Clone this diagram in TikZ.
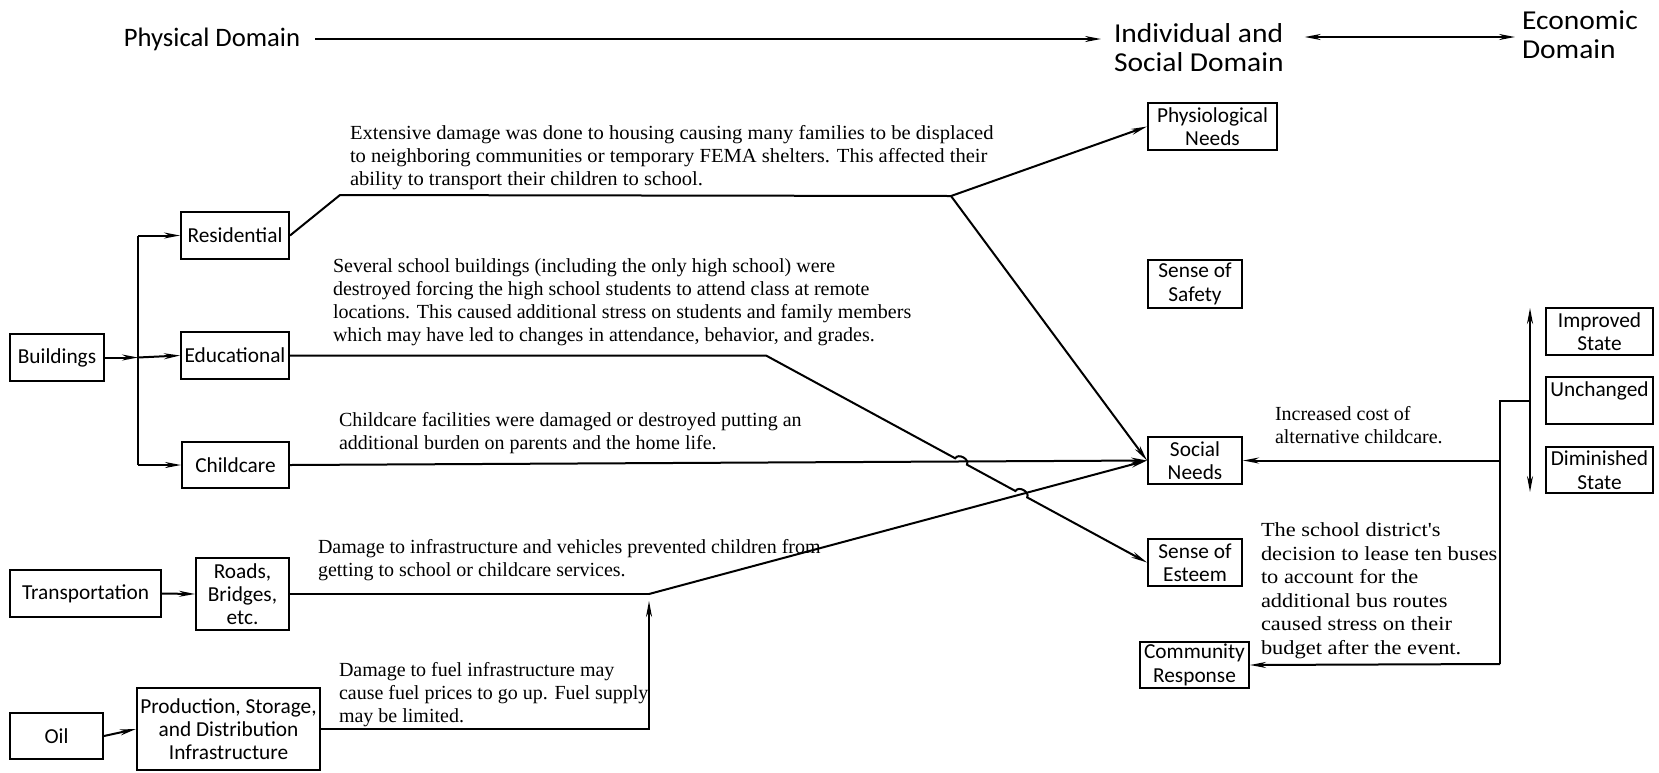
\documentclass[tikz,border=0pt]{standalone}
\usepackage{fontspec}
\setmainfont{Liberation Serif}
\newfontfamily\calfont{Carlito}
\newfontfamily\calwide[FakeStretch=1.08]{Carlito}
\newfontfamily\serwide[FakeStretch=1.12]{Liberation Serif}
\newfontfamily\serwidea[FakeStretch=1.03]{Liberation Serif}
\usetikzlibrary{arrows.meta,calc,intersections}
\begin{document}
\begin{tikzpicture}[x=0.75pt,y=-0.75pt, line width=1.5pt,
  box/.style 2 args={draw, line width=1.5pt, inner sep=0pt, minimum width=#1*0.75pt, minimum height=#2*0.75pt, align=center, font=\calfont\fontsize{16}{17.5}\selectfont},
  arr/.style={-{Stealth[length=12pt,width=4.5pt]}},
  dbl/.style={{Stealth[length=12pt,width=4.5pt]}-{Stealth[length=12pt,width=4.5pt]}},
  desc/.style={anchor=north west, inner sep=0pt, align=left, font=\fontsize{15}{17.25}\selectfont},
  head/.style={inner sep=0pt, align=left, font=\calfont\fontsize{20}{21.75}\selectfont},
  headw/.style={inner sep=0pt, align=left, font=\calwide\fontsize{20.5}{21.75}\selectfont}]
\useasboundingbox (0,0) rectangle (1659,772);

% header
\node[head, anchor=center] (pd) at (212,39) {Physical Domain};
\node[headw, anchor=west] (isd) at (1113,47.5) {Individual and\\Social Domain};
\node[headw, anchor=west] (eco) at (1521,35) {Economic\\Domain};
\coordinate (hy) at (0,37);
\draw[arr] ($(pd.east)+(14,0)$) -- ($(isd.west |- pd.east)+(-12,0)$);
\draw[dbl] ($(isd.east |- hy)+(20,0)$) -- ($(eco.west |- hy)+(-6,0)$);

% boxes
\node[box={94}{47}] (bld) at (57,357.5) {Buildings};
\node[box={108}{47}] (res) at (235,235.5) {Residential};
\node[box={108}{47}] (edu) at (235,355.5) {Educational};
\node[box={107}{46}] (chc) at (235.5,465) {Childcare};
\node[box={151}{47}] (trn) at (85.5,593.5) {Transportation};
\node[box={93}{72}] (rds) at (242.5,594) {Roads,\\Bridges,\\etc.};
\node[box={93}{46}] (oil) at (56.5,736) {Oil};
\node[box={183}{82}] (prd) at (228.5,729) {Production, Storage,\\and Distribution\\Infrastructure};
\node[box={129}{47}] (phy) at (1212.5,126.5) {Physiological\\Needs};
\node[box={94}{48}] (saf) at (1195,284) {Sense of\\Safety};
\node[box={94}{47}] (soc) at (1195,460.5) {Social\\Needs};
\node[box={94}{47}] (est) at (1195,562.5) {Sense of\\Esteem};
\node[box={109}{46}] (com) at (1194.5,665) {Community\\Response};
\node[box={107}{47}] (imp) at (1599.5,331.5) {Improved\\State};
\node[box={107}{47}] (unc) at (1599.5,400.5) {Unchanged\\\phantom{X}};
\node[box={107}{46}] (dim) at (1599.5,470) {Diminished\\State};

% descriptions
\node[desc, font=\serwidea\fontsize{15}{17.25}\selectfont] (t1) at (349,124) {Extensive damage was done to housing causing many families to be displaced\\to neighboring communities or temporary FEMA shelters. This affected their\\ability to transport their children to school.};
\node[desc] (t2) at (332,258) {Several school buildings (including the only high school) were\\destroyed forcing the high school students to attend class at remote\\locations. This caused additional stress on students and family members\\which may have led to changes in attendance, behavior, and grades.};
\node[desc] (t3) at (338,411) {Childcare facilities were damaged or destroyed putting an\\additional burden on parents and the home life.};
\node[desc] (t4) at (317,538) {Damage to infrastructure and vehicles prevented children from\\getting to school or childcare services.};
\node[desc] (t5) at (338,661) {Damage to fuel infrastructure may\\cause fuel prices to go up. Fuel supply\\may be limited.};
\node[desc] (t6) at (1274,405) {Increased cost of\\alternative childcare.};
\node[desc, font=\serwide\fontsize{15}{17.6}\selectfont] (t7) at (1260,522) {The school district's\\decision to lease ten buses\\to account for the\\additional bus routes\\caused stress on their\\budget after the event.};

% building branches
\coordinate (bj) at (138,357.5);
\coordinate (bt) at (138,235.5);
\coordinate (bb) at (138,465);
\draw[arr] (bld.east) -- (bj);
\draw (bt) -- (bb);
\draw[arr] (bt) -- (res.west);
\draw[arr] (bj) -- (edu.west);
\draw[arr] (bb) -- (chc.west);

% residential
\coordinate (rk) at (340,195);
\coordinate (rs) at (951,196);
\draw (res.east) -- (rk) -- (rs);
\draw[arr] (rs) -- (phy.west);
\draw[arr] (rs) -- (soc.west);

% childcare
\draw[arr, name path=ccl] (chc.east) -- (soc.west);

% transportation
\draw[arr] (trn.east) -- (rds.west);
\coordinate (rb) at (649,594);
\draw (rds.east) -- (rb);
\draw[arr, name path=rdl] (rb) -- (soc.west);

% oil
\draw[arr] (oil.east) -- (prd.west);
\draw[arr] (prd.east) -| ($(rb)+(0,7)$);

% educational with hops
\coordinate (eb) at (766,355.5);
\path[name path=edl] (eb) -- (est.west);
\path[name intersections={of=edl and ccl, by=X1}];
\path[name intersections={of=edl and rdl, by=X2}];
\draw[arr] (edu.east) -- (eb) -- ($(X1)!5pt!(eb)$) to[bend left=90,looseness=1.2] ($(X1)!5pt!(est.west)$) -- ($(X2)!5pt!(eb)$) to[bend left=90,looseness=1.2] ($(X2)!5pt!(est.west)$) -- (est.west);

% economic
\coordinate (vt) at (1530,308);
\coordinate (vb) at (1530,492);
\draw[dbl] (vt) -- (vb);
\coordinate (ej) at (1530,401);
\coordinate (ek) at (1500,401);
\coordinate (el) at (1500,664);
\draw (ej) -- (ek) -- (el);
\draw[arr] (el) -- (com.east);
\draw[arr] (ek |- soc.east) -- (soc.east);
\end{tikzpicture}
\end{document}
